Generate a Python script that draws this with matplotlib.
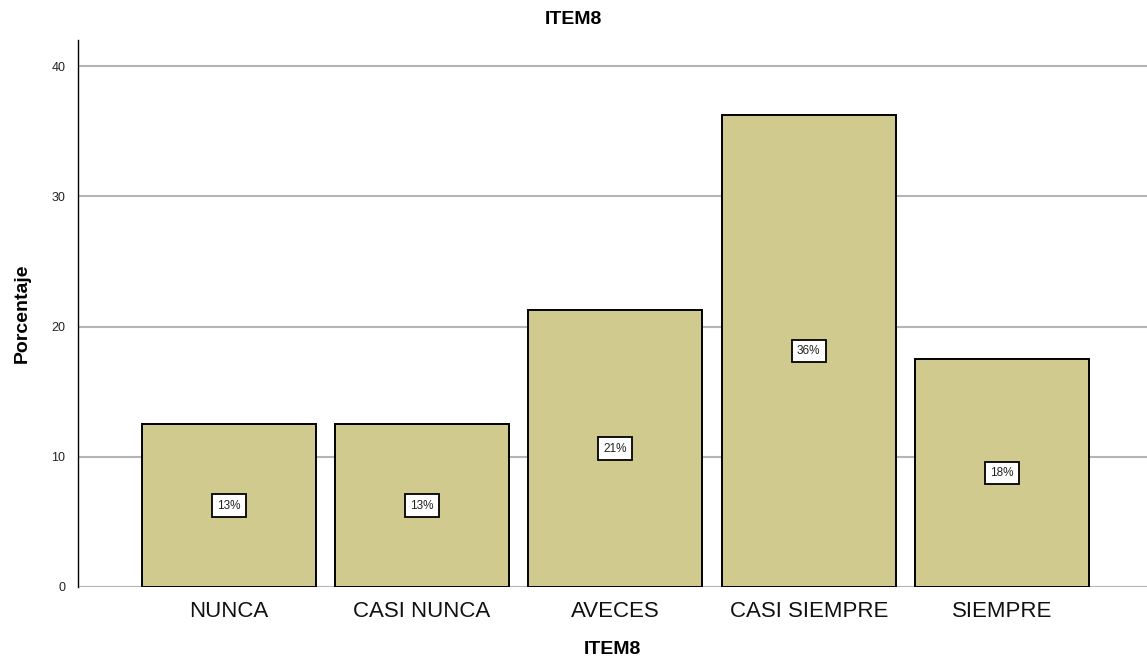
import numpy as np
import matplotlib
matplotlib.use('Agg')
import matplotlib.pyplot as plt

# ITEM8 response distribution (percent of respondents)
categories = ['NUNCA', 'CASI NUNCA', 'AVECES', 'CASI SIEMPRE', 'SIEMPRE']
percent = [12.5, 12.5, 21.25, 36.25, 17.5]
yticks = [0, 10, 20, 30, 40]

plt.rcParams['font.family'] = ['Liberation Sans', 'DejaVu Sans']

fig = plt.figure(figsize=(11.47, 6.61), dpi=100)
ax = fig.add_axes([0.068, 0.112, 0.932, 0.8275])

x = np.arange(len(categories))

# horizontal reference lines behind the bars
for t in yticks:
    ax.axhline(t, color='#b4b4b4', linewidth=1.5, zorder=0)

ax.bar(x, percent, width=0.9, color='#d0ca8f', edgecolor='black', linewidth=1.4, zorder=2)

# rounded percentage labels at half height of each bar
for xi, v in zip(x, percent):
    ax.text(xi, v / 2, '%d%%' % int(v + 0.5), ha='center', va='center', fontsize=8.5,
            color='#222222', zorder=3,
            bbox=dict(boxstyle='square,pad=0.45', facecolor='white', edgecolor='black', linewidth=1.3))

ax.set_xlim(-0.78, 4.75)
ax.set_ylim(0, 42)
ax.set_yticks(yticks)
ax.set_xticks(x)
ax.set_xticklabels(categories, fontsize=16)
ax.tick_params(axis='y', length=0, pad=9, labelsize=9, labelcolor='#222222')
ax.tick_params(axis='x', length=0, pad=10, labelcolor='#111111')

for side in ['top', 'right', 'bottom']:
    ax.spines[side].set_visible(False)
ax.spines['left'].set_color('black')
ax.spines['left'].set_linewidth(1.0)

ax.set_xlabel('ITEM8', fontsize=14, fontweight='bold')
ax.xaxis.set_label_coords(0.5, -0.115)
ax.xaxis.label.set_va('center')
ax.set_ylabel('Porcentaje', fontsize=14, fontweight='bold')
ax.yaxis.set_label_coords(-0.052, 0.5)
ax.yaxis.label.set_va('center')

fig.text(0.5, 1 - 19 / 661, 'ITEM8', ha='center', va='center', fontsize=14, fontweight='bold')

fig.savefig('out.png', dpi=100)
